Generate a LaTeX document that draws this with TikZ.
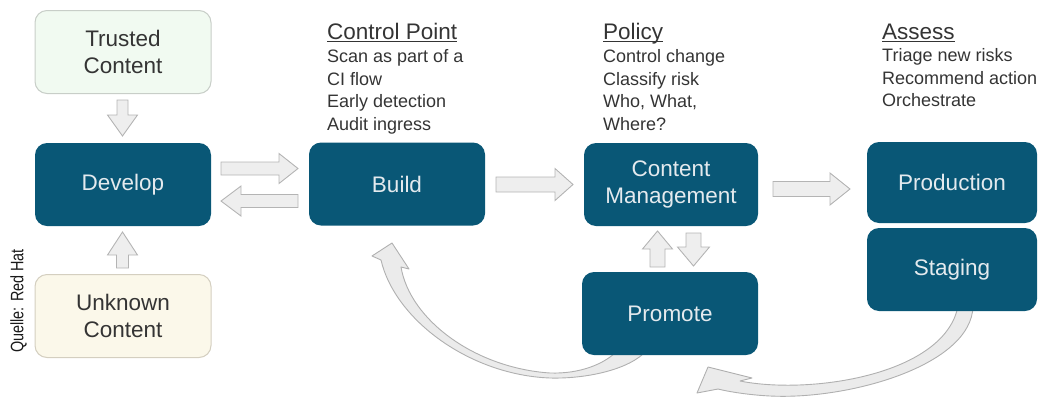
\documentclass[tikz,border=0pt]{standalone}
\usepackage{fontspec}
\usepackage{graphicx}
\setmainfont{Liberation Sans}
\definecolor{boxblue}{RGB}{9,87,118}
\definecolor{boxtext}{RGB}{228,234,238}
\definecolor{textgray}{RGB}{52,52,52}
\definecolor{trustfill}{RGB}{241,250,241}
\definecolor{trustline}{RGB}{200,206,200}
\definecolor{unkfill}{RGB}{251,248,234}
\definecolor{unkline}{RGB}{212,207,192}
\definecolor{arrfill}{RGB}{238,238,238}
\definecolor{arrline}{RGB}{180,180,180}
\definecolor{curvefill}{RGB}{235,235,235}
\definecolor{curveline}{RGB}{176,176,176}

% block arrow: start point, angle, length, half shaft width, half head width, head length
\newcommand{\blockarr}[6]{%
  \begin{scope}[shift={#1}, rotate=#2]
    \draw[barrow] (0,-#4) -- ({#3-#6},-#4) -- ({#3-#6},-#5) -- (#3,0)
      -- ({#3-#6},#5) -- ({#3-#6},#4) -- (0,#4) -- cycle;
  \end{scope}}

\tikzset{
  stage/.style={rectangle, rounded corners=12pt, fill=boxblue, text=boxtext,
    minimum width=176pt, minimum height=83pt, inner sep=0pt, align=center,
    font=\fontsize{22.5}{27}\selectfont},
  source/.style={stage, draw, line width=1pt, text=textgray},
  barrow/.style={fill=arrfill, draw=arrline, line width=0.9pt, line join=miter},
  curvearrow/.style={fill=curvefill, draw=curveline, line width=0.9pt, line join=round},
  head/.style={anchor=base west, inner sep=0pt, text=textgray,
    font=\fontsize{22.5}{27}\selectfont},
  note/.style={anchor=base west, inner sep=0pt, text=textgray,
    font=\fontsize{18}{22}\selectfont},
  uline/.style={draw=textgray, line width=1.1pt},
}

\begin{document}
\begin{tikzpicture}[x=1pt, y=-1pt]
\useasboundingbox (0,0) rectangle (1039,397);

% curved return arrows (drawn first so their tails sit under the boxes)
\draw[curvearrow] (618,350) -- (647,350) .. controls (630,370) and (585,379) .. (550,378)
  .. controls (470,375) and (395,320) .. (381,260) -- (372,256) -- (392,243)
  -- (409,269) -- (401,267) .. controls (410,320) and (475,368) .. (550,373)
  .. controls (580,374) and (605,364) .. (618,350) -- cycle;
\draw[curvearrow] (958,306) -- (973,306) .. controls (972,365) and (850,400) .. (770,396)
  .. controls (750,395) and (730,392) .. (718,389) -- (697,393) -- (708,367)
  -- (752,378) -- (740,381) .. controls (810,395) and (945,375) .. (958,306) -- cycle;

% boxes
\node[source, fill=trustfill, draw=trustline] (trusted) at (123,52) {Trusted\\Content};
\node[stage] (develop) at (123,184.5) {Develop};
\node[source, fill=unkfill, draw=unkline] (unknown) at (123,316) {Unknown\\Content};
\node[stage] (build) at (397,184) {Build};
\node[stage, minimum width=174pt] (content) at (671,184.5) {Content\\Management};
\node[stage] (promote) at (670,313.5) {Promote};
\node[stage, minimum width=170pt, minimum height=81pt] (production) at (952,182.5) {Production};
\node[stage, minimum width=170pt] (staging) at (952,269.5) {Staging};

% straight block arrows
\blockarr{(221,168.5)}{0}{77}{6.5}{15}{19}
\blockarr{(298,201)}{180}{77}{6.5}{15}{20}
\blockarr{(496,184.5)}{0}{77}{7.5}{16}{18}
\blockarr{(773,189)}{0}{77}{7.5}{16}{20}
\blockarr{(122.5,100)}{-90}{36}{5.5}{15}{21}
\blockarr{(122.5,268)}{90}{36}{6}{15}{23}
\blockarr{(657.5,267)}{90}{36}{7.5}{15}{18}
\blockarr{(693.5,233)}{-90}{33}{7.5}{16}{19}

% Control Point
\node[head] (cphead) at (327,39.3) {Control Point};
\draw[uline] ([yshift=-2.5pt]cphead.base west) -- ([yshift=-2.5pt]cphead.base east);
\node[note] (cp1) at (327,62.7) {Scan as part of a};
\node[note] (cp2) at (327,85) {CI flow};
\node[note] (cp3) at (327,107.7) {Early detection};
\node[note] (cp4) at (327,130) {Audit ingress};

% Policy
\node[head] (pohead) at (603,39.3) {Policy};
\draw[uline] ([yshift=-2.5pt]pohead.base west) -- ([yshift=-2.5pt]pohead.base east);
\node[note] (po1) at (603,62.7) {Control change};
\node[note] (po2) at (603,85) {Classify risk};
\node[note] (po3) at (603,107.7) {Who, What,};
\node[note] (po4) at (603,130) {Where?};

% Assess
\node[head] (ashead) at (882,39.3) {Assess};
\draw[uline] ([yshift=-2.5pt]ashead.base west) -- ([yshift=-2.5pt]ashead.base east);
\node[note] (as1) at (882,61.7) {Triage new risks};
\node[note] (as2) at (882,84) {Recommend action};
\node[note] (as3) at (882,106.7) {Orchestrate};

% source credit
\node[rotate=90, inner sep=0pt, text=black!90, font=\fontsize{18}{20}\selectfont]
  (credit) at (18.5,301) {\scalebox{0.8}[1]{Quelle: Red Hat}};
\end{tikzpicture}
\end{document}
